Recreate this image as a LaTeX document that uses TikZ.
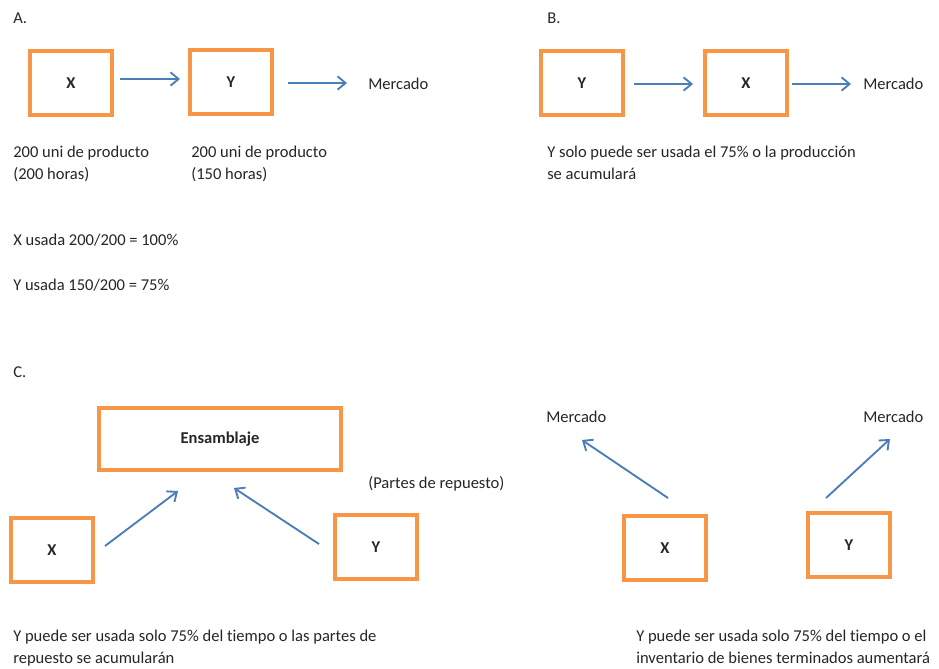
\documentclass[tikz,border=0pt]{standalone}
\usepackage{fontspec}
\setmainfont{Carlito}[Ligatures={NoCommon}]
\usetikzlibrary{arrows.meta}
\definecolor{boxorange}{HTML}{F79646}
\definecolor{arrowblue}{HTML}{4A7EBB}
\definecolor{inkgray}{HTML}{262626}
\tikzset{
  procbox/.style={draw=boxorange, line width=3pt, fill=white,
    minimum width=61.5pt, minimum height=48pt, inner sep=0pt,
    font=\fontsize{12.4}{15}\selectfont\bfseries, text=inkgray},
  flow/.style={draw=arrowblue, line width=1.4pt,
    -{Straight Barb[length=6pt,width=10pt,line width=1.4pt]}},
  label/.style={anchor=base west, inner sep=0pt, align=left,
    font=\fontsize{12.4}{16.5}\selectfont, text=inkgray},
}
\begin{document}
\begin{tikzpicture}[x=0.75pt,y=-0.75pt]
\useasboundingbox (0,0) rectangle (939,668);
\fill[white] (0,0) rectangle (939,668);

% ---- Section A: X -> Y -> Mercado
\node[label] (la) at (13,23) {A.};
\node[procbox] (ax) at (71,83) {X};
\node[procbox] (ay) at (231,82) {Y};
\node[label] (am) at (368,89) {Mercado};
\coordinate (a1s) at (120,79);
\coordinate (a1e) at (180,79);
\coordinate (a2s) at (288,83);
\coordinate (a2e) at (347,83);
\draw[flow] (a1s) -- (a1e);
\draw[flow] (a2s) -- (a2e);
% two-line labels are placed by the baseline of their last line
\node[label] (atx) at (13,179) {200 uni de producto\\(200 horas)};
\node[label] (aty) at (191,179) {200 uni de producto\\(150 horas)};
\node[label] (ux) at (13,245) {X usada 200/200 = 100\%};
\node[label] (uy) at (13,290) {Y usada 150/200 = 75\%};

% ---- Section B: Y -> X -> Mercado
\node[label] (lb) at (547,23) {B.};
\node[procbox] (by) at (582,83) {Y};
\node[procbox] (bx) at (746,83) {X};
\node[label] (bm) at (863,89) {Mercado};
\coordinate (b1s) at (634,84);
\coordinate (b1e) at (693,84);
\coordinate (b2s) at (792,84);
\coordinate (b2e) at (851,84);
\draw[flow] (b1s) -- (b1e);
\draw[flow] (b2s) -- (b2e);
\node[label] (bt) at (547,179) {Y solo puede ser usada el 75\% o la producción\\se acumulará};

% ---- Section C: X and Y feed the assembly
\node[label] (lc) at (13,377) {C.};
\node[procbox, minimum width=181.5pt, minimum height=46.5pt] (ens) at (220,439) {Ensamblaje};
\node[procbox] (cx) at (52,550) {X};
\node[procbox] (cy) at (376,547) {Y};
\node[label] (cp) at (368,488) {(Partes de repuesto)};
\coordinate (c1s) at (105,546);
\coordinate (c1e) at (178,491);
\coordinate (c2s) at (319,544);
\coordinate (c2e) at (234,488);
\draw[flow] (c1s) -- (c1e);
\draw[flow] (c2s) -- (c2e);
\node[label] (ct) at (13,663) {Y puede ser usada solo 75\% del tiempo o las partes de\\repuesto se acumularán};

% ---- Section D: X and Y go straight to market
\node[label] (dm1) at (546,422) {Mercado};
\node[label] (dm2) at (863,422) {Mercado};
\node[procbox] (dx) at (665,548) {X};
\node[procbox] (dy) at (849,545) {Y};
\coordinate (d1s) at (668,498);
\coordinate (d1e) at (582,440);
\coordinate (d2s) at (826,498);
\coordinate (d2e) at (890,439);
\draw[flow] (d1s) -- (d1e);
\draw[flow] (d2s) -- (d2e);
\node[label] (dt) at (636,663) {Y puede ser usada solo 75\% del tiempo o el\\inventario de bienes terminados aumentará};
\end{tikzpicture}
\end{document}
